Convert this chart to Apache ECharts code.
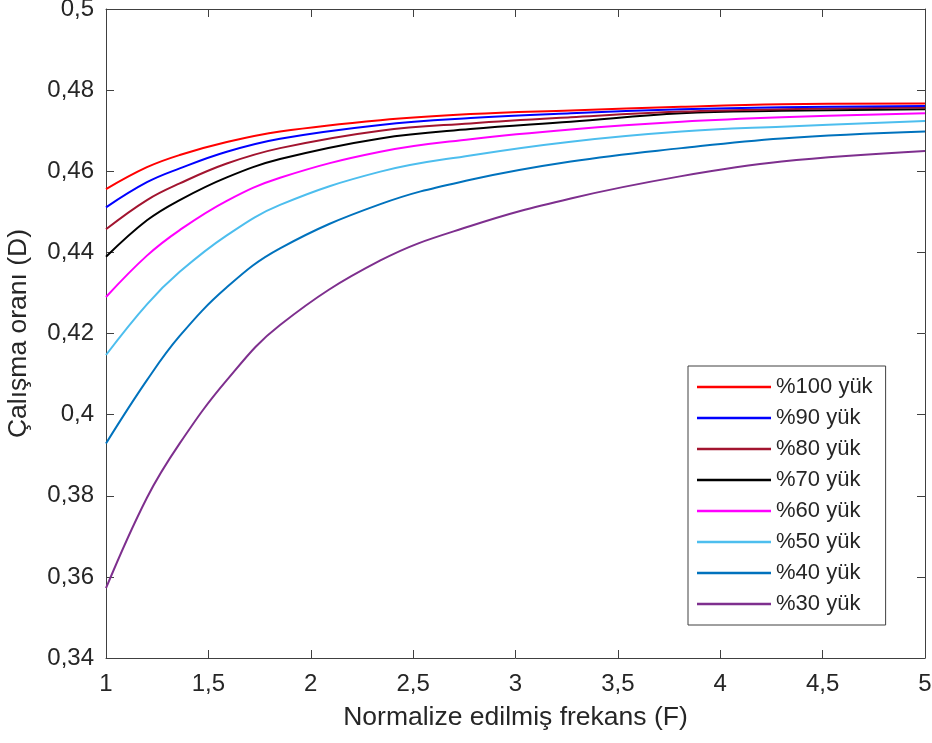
<!DOCTYPE html>
<html>
<head>
<meta charset="utf-8">
<script src="https://cdn.jsdelivr.net/npm/echarts@6/dist/echarts.min.js"></script>
<style>html,body{margin:0;padding:0;background:#fff;}#c{width:932px;height:743px;}</style>
</head>
<body>
<div id="c"></div>
<script>
var F = [1, 1.2, 1.36, 1.59, 1.85, 2.34, 2.78, 3.27, 3.81, 4.3, 5];
var seriesNames = ['%100 yük', '%90 yük', '%80 yük', '%70 yük', '%60 yük', '%50 yük', '%40 yük', '%30 yük'];
var seriesColors = ['#FF0000', '#0000FF', '#A2142F', '#000000', '#FF00FF', '#4DBEEE', '#0072BD', '#7E2F8E'];
var load100 = [0.4556, 0.4610, 0.4640, 0.4672, 0.4698, 0.4726, 0.4741, 0.4750, 0.4759, 0.4765, 0.4767];
var load90  = [0.4511, 0.4573, 0.4607, 0.4648, 0.4680, 0.4714, 0.4731, 0.4743, 0.4753, 0.4758, 0.4761];
var load80  = [0.4457, 0.4529, 0.4570, 0.4619, 0.4657, 0.4700, 0.4718, 0.4733, 0.4747, 0.4753, 0.4757];
var load70  = [0.4389, 0.4479, 0.4529, 0.4585, 0.4630, 0.4681, 0.4704, 0.4722, 0.4743, 0.4749, 0.4753];
var load60  = [0.4290, 0.4392, 0.4455, 0.4527, 0.4584, 0.4648, 0.4679, 0.4703, 0.4722, 0.4733, 0.4743];
var load50  = [0.4147, 0.4272, 0.4352, 0.4442, 0.4517, 0.4599, 0.4639, 0.4673, 0.4698, 0.4710, 0.4724];
var load40  = [0.3929, 0.4085, 0.4194, 0.4314, 0.4410, 0.4519, 0.4579, 0.4624, 0.4657, 0.4681, 0.4698];
var load30  = [0.3572, 0.3795, 0.3929, 0.4085, 0.4221, 0.4380, 0.4465, 0.4533, 0.4588, 0.4624, 0.4650];
var allLoads = [load100, load90, load80, load70, load60, load50, load40, load30];

var FONT = 'Liberation Sans, Arial, sans-serif';
var AX = '#404040';
function comma(v){ return String(+v.toFixed(3)).replace('.', ','); }

var series = allLoads.map(function(arr, i){
  return {
    name: seriesNames[i], type: 'line', smooth: 0.4,
    showSymbol: false, symbol: 'none',
    data: F.map(function(x, j){ return [x, arr[j]]; }),
    lineStyle: { color: seriesColors[i], width: 2 },
    itemStyle: { color: seriesColors[i] },
    z: 10 - i
  };
});

var chart = echarts.init(document.getElementById('c'), null, {renderer: 'canvas'});
chart.setOption({
  animation: false,
  backgroundColor: '#fff',
  grid: { left: 106, right: 7, top: 9, bottom: 85, containLabel: false, outerBoundsMode: 'none' },
  legend: {
    orient: 'vertical', left: 688, top: 366,
    data: seriesNames.map(function(n){ return { name: n, icon: 'rect' }; }),
    itemWidth: 74, itemHeight: 2.5, itemGap: 9,
    padding: [10, 13, 10, 9],
    borderColor: AX, borderWidth: 1, backgroundColor: '#fff',
    textStyle: { fontFamily: FONT, fontSize: 22, color: '#262626', lineHeight: 22 }
  },
  xAxis: [{
    type: 'value', min: 1, max: 5, interval: 0.5,
    name: 'Normalize edilmiş frekans (F)', nameLocation: 'middle', nameGap: 46,
    nameTextStyle: { fontFamily: FONT, fontSize: 26.5, color: '#262626' },
    axisLine: { show: true, lineStyle: { color: AX, width: 1 } },
    axisTick: { show: true, inside: true, length: 8, lineStyle: { color: AX } },
    axisLabel: { fontFamily: FONT, fontSize: 24, color: '#262626', margin: 14, formatter: comma },
    splitLine: { show: false }
  }, {
    type: 'value', min: 1, max: 5, interval: 0.5, position: 'top',
    axisLine: { show: true, lineStyle: { color: AX, width: 1 } },
    axisTick: { show: true, inside: true, length: 8, lineStyle: { color: AX } },
    axisLabel: { show: false }, splitLine: { show: false }
  }],
  yAxis: [{
    type: 'value', min: 0.34, max: 0.5, interval: 0.02,
    name: 'Çalışma oranı (D)', nameLocation: 'middle', nameGap: 74,
    nameTextStyle: { fontFamily: FONT, fontSize: 26.5, color: '#262626' },
    axisLine: { show: true, lineStyle: { color: AX, width: 1 } },
    axisTick: { show: true, inside: true, length: 8, lineStyle: { color: AX } },
    axisLabel: { fontFamily: FONT, fontSize: 24, color: '#262626', margin: 12, formatter: comma },
    splitLine: { show: false }
  }, {
    type: 'value', min: 0.34, max: 0.5, interval: 0.02, position: 'right',
    axisLine: { show: true, lineStyle: { color: AX, width: 1 } },
    axisTick: { show: true, inside: true, length: 8, lineStyle: { color: AX } },
    axisLabel: { show: false }, splitLine: { show: false }
  }],
  series: series
});
</script>
</body>
</html>
